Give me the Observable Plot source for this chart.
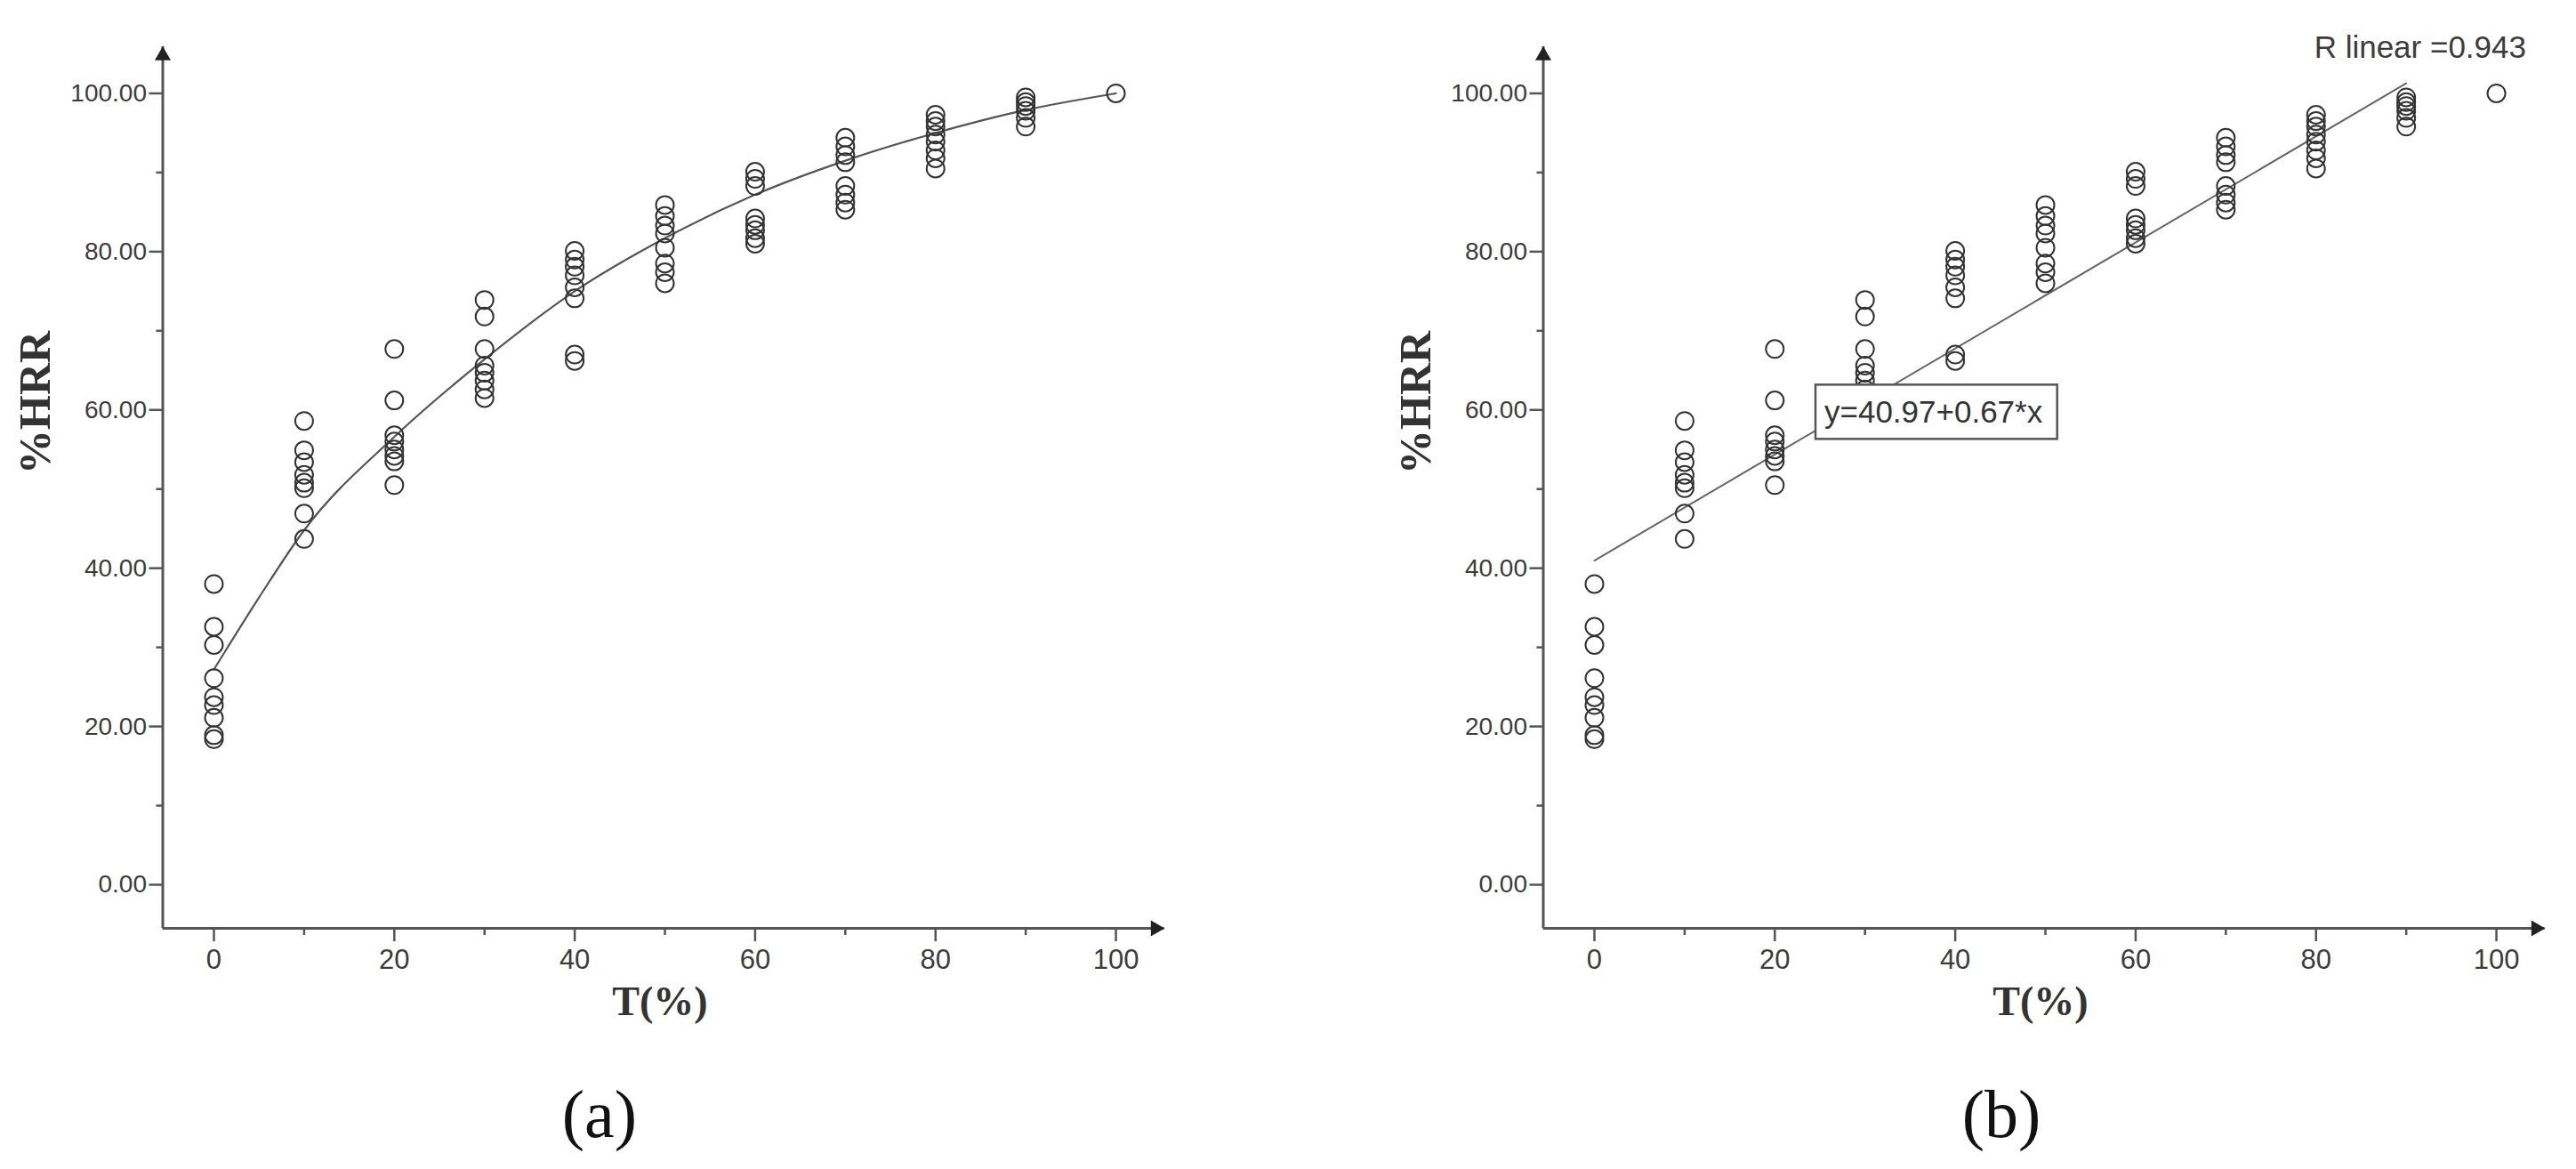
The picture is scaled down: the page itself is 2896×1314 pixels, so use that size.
<!DOCTYPE html>
<html><head><meta charset="utf-8">
<script src="https://cdn.jsdelivr.net/npm/d3@7"></script>
<script src="https://cdn.jsdelivr.net/npm/@observablehq/plot@0.6"></script>
<style>
html,body{margin:0;padding:0;background:#fff;}
#wrap{position:relative;width:2896px;height:1314px;overflow:hidden;background:#fff;}
.panel{position:absolute;top:0;width:1340px;height:1190px;}
.cap{position:absolute;top:1190px;height:124px;width:400px;font-family:"Liberation Serif","Times New Roman",serif;font-size:76px;color:#111;text-align:center;line-height:124px;}
</style></head><body>
<div id="wrap">
  <div class="panel" id="pa" style="left:0px"></div>
  <div class="panel" id="pb" style="left:1552px"></div>
  <div class="cap" style="left:474px">(a)</div>
  <div class="cap" style="left:2050px">(b)</div>
</div>
<script>
// ---- data ----
const tLevels = [0, 10, 20, 30, 40, 50, 60, 70, 80, 90, 100];
const hrrAt0   = [38.0, 32.6, 30.3, 26.1, 23.7, 22.7, 21.1, 18.9, 18.4];
const hrrAt10  = [58.6, 54.9, 53.4, 51.8, 50.8, 50.1, 46.9, 43.7];
const hrrAt20  = [67.7, 61.2, 56.8, 56.0, 55.0, 54.2, 53.5, 50.5];
const hrrAt30  = [73.9, 71.8, 67.7, 65.6, 64.7, 63.7, 62.6, 61.5];
const hrrAt40  = [80.1, 79.0, 78.1, 77.0, 75.5, 74.1, 67.0, 66.2];
const hrrAt50  = [85.9, 84.5, 83.3, 82.3, 80.5, 78.5, 77.4, 76.0];
const hrrAt60  = [90.1, 89.2, 88.3, 84.2, 83.4, 82.7, 81.7, 81.0];
const hrrAt70  = [94.4, 93.3, 92.2, 91.3, 88.3, 87.2, 86.2, 85.3];
const hrrAt80  = [97.3, 96.5, 95.8, 94.8, 93.9, 92.8, 91.8, 90.5];
const hrrAt90  = [99.5, 98.9, 98.4, 97.8, 96.9, 95.8];
const hrrAt100 = [100.0];
const hrrColumns = [hrrAt0, hrrAt10, hrrAt20, hrrAt30, hrrAt40, hrrAt50, hrrAt60, hrrAt70, hrrAt80, hrrAt90, hrrAt100];

// fitted curve of panel (a)
const curveT   = [0, 5, 10, 20, 30, 40, 50, 60, 70, 80, 90, 100];
const curveHRR = [27.2, 36.3, 44.8, 56.6, 66.4, 75.0, 81.7, 87.2, 91.5, 95.0, 97.9, 100.0];

// linear fit of panel (b), end points of the drawn line
const lineT   = [0, 90];
const lineHRR = [40.97, 101.27];

const equationText = "y=40.97+0.67*x";
const rText = "R linear =0.943";

const xMajor = [0, 20, 40, 60, 80, 100];
const xMinor = [10, 30, 50, 70, 90];
const yMajor = [0, 20, 40, 60, 80, 100];
const yMinor = [10, 30, 50, 70, 90];
const xDomain = [-5.67, 105.37];
const yDomain = [-5.51, 105.9];

// ---- build tables ----
const points = tLevels.flatMap((t, i) => hrrColumns[i].map(v => ({T: t, HRR: v})));
const curve = curveT.map((t, i) => ({T: t, HRR: curveHRR[i]}));
const fitLine = lineT.map((t, i) => ({T: t, HRR: lineHRR[i]}));

const AX = "#555";
const TXT = "#3c3c3c";
const SANS = "Liberation Sans, Arial, Helvetica, sans-serif";
const SERIF = "Liberation Serif, Times New Roman, serif";

function axesMarks() {
  return [
    Plot.ruleX([xDomain[0]], {stroke: AX, strokeWidth: 3}),
    Plot.ruleY([yDomain[0]], {stroke: AX, strokeWidth: 3}),
    Plot.axisY(yMajor, {anchor: "left", tickSize: 15, tickPadding: 3, tickFormat: d => d.toFixed(2),
      fontSize: 28, fill: TXT, stroke: AX, strokeWidth: 2.5, label: null, fontFamily: SANS}),
    Plot.axisY(yMinor, {anchor: "left", tickSize: 7, fill: "none", stroke: AX, strokeWidth: 2.5, label: null}),
    Plot.axisX(xMajor, {anchor: "bottom", tickSize: 15, tickPadding: 8, fontSize: 31, fill: TXT,
      stroke: AX, strokeWidth: 2.5, label: null, fontFamily: SANS}),
    Plot.axisX(xMinor, {anchor: "bottom", tickSize: 8, fill: "none", stroke: AX, strokeWidth: 2.5, label: null}),
    Plot.dot([0], {frameAnchor: "top-left", symbol: "triangle", r: 6.7, fill: "#222", stroke: "none", dy: 10}),
    Plot.dot([0], {frameAnchor: "bottom-right", symbol: "triangle", r: 6.7, fill: "#222", stroke: "none", rotate: 90, dx: -10}),
    Plot.text(["%HRR"], {frameAnchor: "left", rotate: -90, dx: -143, dy: -15, fontSize: 50,
      fontWeight: "bold", fontFamily: SERIF, fill: "#333"}),
    Plot.text(["T(%)"], {frameAnchor: "bottom", dx: -4, dy: 97, fontSize: 46,
      fontWeight: "bold", fontFamily: SERIF, fill: "#333"})
  ];
}

function basePlot(extra) {
  return Plot.plot({
    width: 1340, height: 1190,
    marginLeft: 182.5, marginRight: 31.5, marginTop: 52, marginBottom: 147,
    x: {domain: xDomain, label: null},
    y: {domain: yDomain, label: null},
    style: {fontFamily: SANS, background: "white", overflow: "visible", color: "#333"},
    marks: [
      ...axesMarks(),
      ...extra
    ]
  });
}

const plotA = basePlot([
  Plot.line(curve, {x: "T", y: "HRR", stroke: "#555", strokeWidth: 2.2, curve: "monotone-x"}),
  Plot.dot(points, {x: "T", y: "HRR", r: 10, stroke: "#333", strokeWidth: 2, fill: "none"})
]);

const plotB = basePlot([
  Plot.line(fitLine, {x: "T", y: "HRR", stroke: "#666", strokeWidth: 2}),
  Plot.dot(points, {x: "T", y: "HRR", r: 10, stroke: "#333", strokeWidth: 2, fill: "none"}),
  Plot.text([rText], {frameAnchor: "top-right", textAnchor: "end", dx: -21, dy: -12, fontSize: 35, fill: TXT, fontFamily: SANS}),
  Plot.text([equationText], {frameAnchor: "top-left", textAnchor: "start", dx: 316, dy: 398, fontSize: 35, fill: "#333", fontFamily: SANS})
]);

document.getElementById("pa").appendChild(plotA);
document.getElementById("pb").appendChild(plotB);

// white box behind the equation label
(function addBox(svg, str) {
  const t = Array.from(svg.querySelectorAll("text")).find(e => e.textContent === str);
  if (!t) return;
  const sr = svg.getBoundingClientRect();
  const r = t.getBoundingClientRect();
  const rect = document.createElementNS("http://www.w3.org/2000/svg", "rect");
  rect.setAttribute("x", r.left - sr.left - 10);
  rect.setAttribute("y", r.top - sr.top - 11);
  rect.setAttribute("width", r.width + 26);
  rect.setAttribute("height", r.height + 22);
  rect.setAttribute("fill", "white");
  rect.setAttribute("stroke", "#555");
  rect.setAttribute("stroke-width", "2.5");
  const g = t.parentNode;
  g.parentNode.insertBefore(rect, g);
})(plotB, equationText);
</script>
</body></html>
